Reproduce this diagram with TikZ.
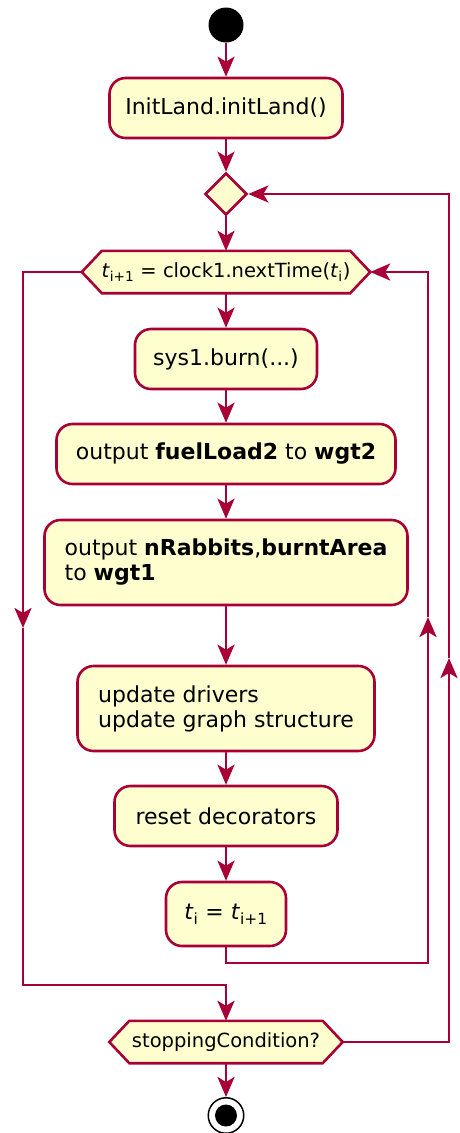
\documentclass[tikz,border=0pt]{standalone}
\usepackage{fontspec}
\setmainfont{DejaVu Sans}
\usetikzlibrary{arrows.meta,shapes.geometric,backgrounds}
\definecolor{umlred}{HTML}{A80036}
\definecolor{umlfill}{HTML}{FEFECE}

\tikzset{
  actbox/.style 2 args={draw=umlred, fill=umlfill, line width=2.6pt,
    rounded corners=16pt, inner sep=0pt, minimum width=#1, minimum height=#2,
    font=\fontsize{22}{25}\selectfont, align=left},
  hexbox/.style 2 args={inner sep=0pt, minimum width=#1, minimum height=#2,
    font=\fontsize{19.5}{23}\selectfont},
  hexline/.style={draw=umlred, fill=umlfill, line width=2.6pt},
  flowline/.style={draw=umlred, line width=2.6pt,
    -{Stealth[length=20pt,width=17pt,inset=5pt]}},
}

\newcommand{\hexframe}[1]{%
  \begin{pgfonlayer}{background}
    \draw[hexline] (#1.west) -- ([xshift=20pt]#1.north west)
      -- ([xshift=-20pt]#1.north east) -- (#1.east)
      -- ([xshift=-20pt]#1.south east) -- ([xshift=20pt]#1.south west) -- cycle;
  \end{pgfonlayer}}

\begin{document}
\begin{tikzpicture}[x=1pt,y=-1pt]
  \path[use as bounding box] (0,0) rectangle (460,1133);

  % start and end
  \node[circle, fill=black, minimum size=35pt, inner sep=0pt] (start) at (226,25) {};
  \node[circle, draw=black, line width=1.5pt, fill=white, minimum size=35.5pt,
        inner sep=0pt] (stop) at (226,1115.5) {};
  \fill[black] (stop.center) circle (11pt);

  % activities
  \node[actbox={233pt}{60pt}] (init) at (226,108) {InitLand.initLand()};
  \node[diamond, draw=umlred, fill=umlfill, line width=2.6pt, minimum width=42pt,
        minimum height=42pt, inner sep=0pt] (dia) at (226,194) {};
  \node[hexbox={288pt}{42pt}] (whl) at (226,272)
    {\textit{t}\textsubscript{i+1} = clock1.nextTime(\textit{t}\textsubscript{i})};
  \hexframe{whl}
  \node[actbox={182pt}{60pt}] (burn) at (226,359) {sys1.burn(...)};
  \node[actbox={339pt}{60pt}] (fuel) at (226,454)
    {output \textbf{fuelLoad2} to \textbf{wgt2}};
  \node[actbox={363pt}{85pt}] (rab) at (226,562.5)
    {output \textbf{nRabbits},\textbf{burntArea}\\to \textbf{wgt1}};
  \node[actbox={297pt}{85pt}] (upd) at (226,708.5)
    {update drivers\\update graph structure};
  \node[actbox={223pt}{60pt}] (rst) at (226,816) {reset decorators};
  \node[actbox={120pt}{64pt}] (ti) at (226,914)
    {\textit{t}\textsubscript{i} = \textit{t}\textsubscript{i+1}};
  \node[hexbox={233pt}{42pt}] (stophex) at (226,1042) {stoppingCondition?};
  \hexframe{stophex}

  % main flow
  \draw[flowline] (start) -- (init);
  \draw[flowline] (init) -- (dia);
  \draw[flowline] (dia) -- (whl);
  \draw[flowline] (whl) -- (burn);
  \draw[flowline] (burn) -- (fuel);
  \draw[flowline] (fuel) -- (rab);
  \draw[flowline] (rab) -- (upd);
  \draw[flowline] (upd) -- (rst);
  \draw[flowline] (rst) -- (ti);
  \draw[flowline] (stophex) -- (stop);

  % inner loop back to the while test
  \coordinate (icorner) at (428,963);
  \coordinate (imid) at (428,617);
  \draw[flowline] (ti.south) |- (icorner) -- (imid);
  \draw[flowline] (imid) |- (whl.east);

  % exit of the while loop
  \coordinate (lmid) at (23,628);
  \coordinate (lcorner) at (23,985);
  \draw[flowline] (whl.west) -| (lmid);
  \draw[flowline] (lmid) -- (lcorner) -| (stophex.north);

  % outer repeat loop
  \coordinate (omid) at (449,658);
  \draw[flowline] (stophex.east) -| (omid);
  \draw[flowline] (omid) |- (dia.east);
\end{tikzpicture}
\end{document}
